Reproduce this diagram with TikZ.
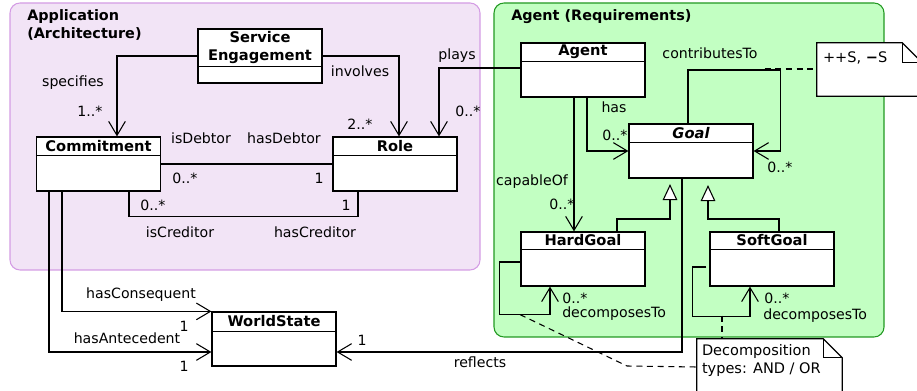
\documentclass[tikz,border=0pt]{standalone}
\usepackage{fontspec}
\setmainfont{DejaVu Sans}
\usetikzlibrary{arrows.meta,calc}

\definecolor{appfill}{HTML}{F2E4F6}
\definecolor{appline}{HTML}{D49CE4}
\definecolor{agfill}{HTML}{C2FFC2}
\definecolor{agline}{HTML}{229922}

\tikzset{
  region/.style={rounded corners=7.5pt, line width=0.8pt},
  clsbox/.style={draw, fill=white, line width=0.9pt, inner sep=0pt,
    minimum width=93pt, minimum height=40.5pt},
  clstitle/.style={font=\bfseries\fontsize{11pt}{13.5pt}\selectfont, inner sep=0pt},
  lbl/.style={inner sep=0pt, font=\fontsize{10.6pt}{12.5pt}\selectfont},
  line/.style={line width=0.9pt},
  assoc/.style={line, -{Straight Barb[length=10.5pt, width=12.5pt, line width=0.8pt]}},
  gen/.style={line, -{Triangle[open, length=12pt, width=11pt, line width=0.8pt, fill=white]}},
  notedash/.style={line width=0.8pt, dash pattern=on 4.5pt off 3.5pt},
}

% A UML class: name, centre, header height (px), title
\newcommand\umlclass[4]{%
  \node[clsbox] (#1) at #2 {};
  \draw[line] ([yshift=-#3*0.75pt]#1.north west) -- ([yshift=-#3*0.75pt]#1.north east);
  \node[clstitle, align=center] (#1-t) at ([yshift=-#3*0.375pt]#1.north) {#4};
}

\begin{document}
\begin{tikzpicture}[x=0.75pt, y=-0.75pt, font=\fontsize{10.6pt}{12.5pt}\selectfont]
\useasboundingbox (0,0) rectangle (917,391);
\clip (0,0) rectangle (917,391);

% package regions
\draw[region, fill=appfill, draw=appline] (10,3) rectangle (480,270);
\draw[region, fill=agfill, draw=agline] (494,3) rectangle (884,337);
\node[anchor=north west, align=left, inner sep=0pt, font=\bfseries\fontsize{10.8pt}{13.5pt}\selectfont]
  (apptitle) at (27,9) {Application\\(Architecture)};
\node[anchor=north west, inner sep=0pt, font=\bfseries\fontsize{10.8pt}{13pt}\selectfont]
  (agtitle) at (511,9) {Agent (Requirements)};

% classes
\umlclass{se}{(260,56)}{38}{Service\\Engagement}
\umlclass{com}{(98.5,164)}{19}{Commitment}
\umlclass{role}{(395,164)}{19}{Role}
\umlclass{agent}{(583,70)}{19}{Agent}
\umlclass{goal}{(691,151)}{19}{\itshape Goal}
\umlclass{hg}{(583,259)}{18}{HardGoal}
\umlclass{sg}{(772,259)}{18}{SoftGoal}
\umlclass{ws}{(274,339)}{20}{WorldState}

% notes with a folded corner
\node[minimum width=78.75pt, minimum height=39.75pt, inner sep=0pt] (n1) at (869.5,69.5) {};
\draw[line, fill=white] (n1.north west) -- ($(n1.north east)+(-20,0)$) -- ($(n1.north east)+(0,20)$)
  -- (n1.south east) -- (n1.south west) -- cycle;
\draw[line] ($(n1.north east)+(-20,0)$) -- ($(n1.north east)+(-20,20)$) -- ($(n1.north east)+(0,20)$);
\node[lbl, anchor=west, font=\fontsize{10.9pt}{13pt}\selectfont] (n1-t) at ($(n1.north west)+(6,15)$) {++S, \textbf{−}S};

\node[minimum width=108.75pt, minimum height=42pt, inner sep=0pt] (n2) at (769.5,367) {};
\draw[line, fill=white] (n2.north west) -- ($(n2.north east)+(-19,0)$) -- ($(n2.north east)+(0,19)$)
  -- (n2.south east) -- (n2.south west) -- cycle;
\draw[line] ($(n2.north east)+(-19,0)$) -- ($(n2.north east)+(-19,19)$) -- ($(n2.north east)+(0,19)$);
\node[lbl, anchor=north west, align=left, font=\fontsize{10.9pt}{14.2pt}\selectfont]
  (n2-t) at ($(n2.north west)+(5,5)$) {Decomposition\\types: AND / OR};

% associations in the application package
\draw[assoc] (se.west) -| ($(com.north)+(18.5,0)$);
\draw[assoc] (se.east) -| ($(role.north)+(4,0)$);
\draw[assoc] ($(agent.west)+(0,-2)$) -| ($(role.north)+(44,0)$);
\draw[line] (com.east) -- (role.west);
\draw[line] ($(com.south)+(30.5,0)$) -- ++(0,25) -| ($(role.south)+(-37,0)$);
\draw[assoc] ($(com.south)+(-36.5,0)$) |- (ws.north west);
\draw[assoc] ($(com.south)+(-49.5,0)$) |- ($(ws.west)+(0,13)$);
\draw[assoc] ($(goal.south)+(-9,0)$) |- ($(ws.east)+(0,13)$);

% associations in the agent package
\draw[assoc] ($(agent.south)+(4,0)$) |- (goal.west);
\draw[assoc] ($(goal.north)+(-3,0)$) |- ($(goal.east)+(27,-81)$) |- (goal.east);
\coordinate (cdash) at ($(goal.east)+(11,-82)$);
\draw[notedash] (cdash) -- (cdash -| n1.west);
\draw[assoc] ($(agent.south)+(-9,0)$) -- ($(hg.north)+(-9,0)$);

% generalisations
\coordinate (t1) at ($(goal.south)+(-21,5.5)$);
\coordinate (t2) at ($(goal.south)+(17,6.5)$);
\draw[gen] ($(hg.north)+(34,0)$) |- ($(t1)+(0,35)$) -- (t1);
\draw[gen] ($(sg.north)+(7,0)$) |- ($(t2)+(0,34)$) -- (t2);

% decomposition loops
\draw[assoc] ($(hg.west)+(0,3)$) -- ++(-21,0) |- ($(hg.south)+(-33,28)$) -- ($(hg.south)+(-33,0)$);
\draw[assoc] ($(sg.west)+(-3,8)$) -- ++(-14,0) |- ($(sg.south)+(-22,30)$) -- ($(sg.south)+(-22,0)$);
\coordinate (hgd) at ($(hg.south)+(-63,28)$);
\draw[notedash] (hgd) -- (627,366) -- (n2.west);
\draw[notedash] ($(n2.north)+(-47.5,-23)$) -- ($(n2.north)+(-47.5,0)$);

% labels
\node[lbl] (l-spec) at (73,83) {specifies};
\node[lbl] (l-spec-m) at (90,111) {1..*};
\node[lbl] (l-inv) at (360,71) {involves};
\node[lbl] (l-inv-m) at (360,124) {2..*};
\node[lbl] (l-plays) at (457,56) {plays};
\node[lbl] (l-plays-m) at (468,111) {0..*};
\node[lbl] (l-isd) at (201,138) {isDebtor};
\node[lbl] (l-hasd) at (284,138) {hasDebtor};
\node[lbl] (l-isd-m) at (185,178) {0..*};
\node[lbl] (l-hasd-m) at (319,178) {1};
\node[lbl] (l-isc-m) at (153,205) {0..*};
\node[lbl] (l-hasc-m) at (346,205) {1};
\node[lbl] (l-isc) at (180,232) {isCreditor};
\node[lbl] (l-hasc) at (315,232) {hasCreditor};
\node[lbl] (l-cons) at (141,295) {hasConsequent};
\node[lbl] (l-cons-m) at (184,326) {1};
\node[lbl] (l-ante) at (127,338) {hasAntecedent};
\node[lbl] (l-ante-m) at (184,366) {1};
\node[lbl] (l-refl-m) at (362,340) {1};
\node[lbl] (l-refl) at (480,362) {reflects};
\node[lbl] (l-has) at (614,107) {has};
\node[lbl] (l-has-m) at (615,135) {0..*};
\node[lbl] (l-contr) at (710,53) {contributesTo};
\node[lbl] (l-contr-m) at (780,167) {0..*};
\node[lbl] (l-cap) at (532,182) {capableOf};
\node[lbl] (l-cap-m) at (562,204) {0..*};
\node[lbl] (l-hgd-m) at (575,298) {0..*};
\node[lbl, anchor=west] (l-hgd) at (562,314) {decomposesTo};
\node[lbl] (l-sgd-m) at (777,298) {0..*};
\node[lbl, anchor=west] (l-sgd) at (763,316) {decomposesTo};
\end{tikzpicture}
\end{document}
